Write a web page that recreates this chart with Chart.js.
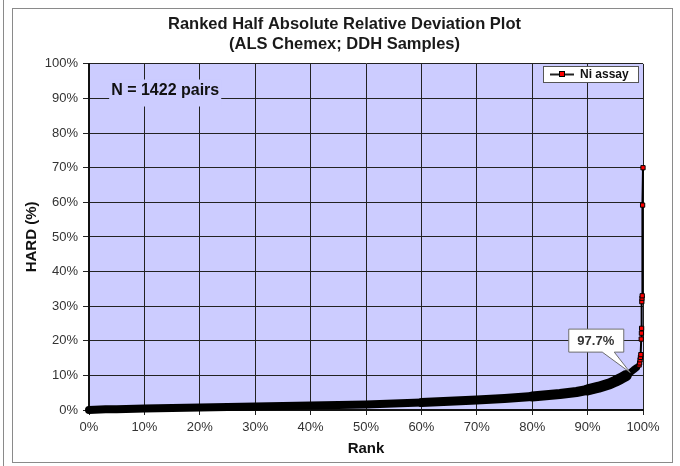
<!DOCTYPE html>
<html>
<head>
<meta charset="utf-8">
<style>
  html, body { margin: 0; padding: 0; background: #fff; }
  #wrap { width: 680px; height: 466px; }
</style>
</head>
<body>
<div id="wrap"><canvas id="hardChart" width="680" height="466"></canvas></div>
<script src="https://cdn.jsdelivr.net/npm/chart.js@4.4.0/dist/chart.umd.min.js"></script>
<script>
// DATA (rank %, HARD %)

const rank = [0, 1, 3, 5, 10, 15, 20, 25, 30, 35, 40, 45, 50, 55, 60, 65, 70, 75, 80, 85, 88, 90, 92, 94, 95, 96, 97, 97.7, 98.3, 98.8, 99.1, 99.3, 99.4, 99.47, 99.54, 99.61, 99.68, 99.72, 99.75, 99.79, 99.82, 99.86, 99.93, 100];
const hard = [0, 0.1, 0.2, 0.25, 0.4, 0.55, 0.7, 0.85, 1.0, 1.15, 1.3, 1.45, 1.6, 1.85, 2.15, 2.5, 2.9, 3.35, 3.9, 4.6, 5.2, 5.8, 6.6, 7.6, 8.3, 9.1, 10.0, 10.8, 11.6, 12.2, 12.6, 13.0, 13.6, 14.5, 15.2, 16.0, 20.5, 22.2, 23.6, 31.3, 32.3, 33.0, 59.2, 70.0];
const seriesName = "Ni assay";
const nPairs = 1422;
const calloutRank = 97.7;
const titleLines = ["Ranked Half Absolute Relative Deviation Plot", "(ALS Chemex; DDH Samples)"];

const FONT = "'Liberation Sans', Arial, sans-serif";

// points below this HARD value sit inside the thick band, above it the markers show
const markerFrom = 12.9;

let points = rank.map((r, i) => ({ x: r, y: hard[i] }));

// FRAME + PLOT BACKGROUND

const backdrop = {
  id: "backdrop",
  afterLayout(chart) {
    // title sits a bit right of the padded box centre
    chart.titleBlock.left += 12;
    chart.titleBlock.right += 12;
  },
  beforeDraw(chart) {
    const c = chart.ctx;
    const a = chart.chartArea;
    c.save();
    c.fillStyle = "#fff";
    c.fillRect(0, 0, chart.width, chart.height);
    c.strokeStyle = "#8a8a8a";
    c.lineWidth = 1;
    c.strokeRect(12.5, 8.5, 660, 454);
    c.beginPath();
    c.moveTo(3.5, 0);
    c.lineTo(3.5, chart.height);
    c.stroke();
    c.fillStyle = "#ccccff";
    c.fillRect(a.left, a.top, a.right - a.left, a.bottom - a.top);
    c.restore();
  },
};

// N LABEL, CALLOUT AND LEGEND

const extras = {
  id: "extras",
  beforeDatasetsDraw(chart) {
    const c = chart.ctx;
    const xs = chart.scales.x;
    const ys = chart.scales.y;
    const txt = "N = " + nPairs + " pairs";
    c.save();
    c.font = "bold 16px " + FONT;
    let w = c.measureText(txt).width;
    let lx = xs.getPixelForValue(4);
    let ly = ys.getPixelForValue(90) - 8;
    c.fillStyle = "#ccccff";
    c.fillRect(lx - 2, ly - 11, w + 4, 27);
    c.fillStyle = "#111";
    c.textBaseline = "middle";
    c.fillText(txt, lx, ly);
    c.restore();
  },
  afterDatasetsDraw(chart) {
    const c = chart.ctx;
    const xs = chart.scales.x;
    const ys = chart.scales.y;
    let i = rank.indexOf(calloutRank);
    let tx = xs.getPixelForValue(rank[i]);
    let ty = ys.getPixelForValue(hard[i]);
    let bw = 55, bh = 23;
    let br = tx - 7, bb = ty - 21;
    let bl = br - bw, bt = bb - bh;

    c.save();
    c.fillStyle = "#fff";
    c.strokeStyle = "#6e6e6e";
    c.lineWidth = 1;
    c.beginPath();
    c.moveTo(bl + 0.5, bt + 0.5);
    c.lineTo(br + 0.5, bt + 0.5);
    c.lineTo(br + 0.5, bb + 0.5);
    c.lineTo(bl + 46, bb + 0.5);
    c.lineTo(tx, ty);
    c.lineTo(bl + 34, bb + 0.5);
    c.lineTo(bl + 0.5, bb + 0.5);
    c.closePath();
    c.fill();
    c.stroke();
    c.fillStyle = "#333";
    c.font = "bold 13px " + FONT;
    c.textAlign = "center";
    c.textBaseline = "middle";
    c.fillText(calloutRank.toFixed(1) + "%", bl + bw / 2, bt + bh / 2 + 1);

    // legend box
    let gx = 543, gy = 66, gw = 95, gh = 16;
    c.fillStyle = "#fff";
    c.fillRect(gx, gy, gw, gh);
    c.strokeStyle = "#555";
    c.strokeRect(gx + 0.5, gy + 0.5, gw, gh);
    c.strokeStyle = "#222";
    c.lineWidth = 2;
    c.beginPath();
    c.moveTo(550, gy + 8.5);
    c.lineTo(574, gy + 8.5);
    c.stroke();
    c.fillStyle = "#ff0000";
    c.fillRect(559, gy + 5, 6, 6);
    c.lineWidth = 1;
    c.strokeStyle = "#000";
    c.strokeRect(559.5, gy + 5.5, 5, 5);
    c.fillStyle = "#111";
    c.font = "bold 12px " + FONT;
    c.textAlign = "left";
    c.fillText(seriesName, 580, gy + 9);
    c.restore();
  },
};

// CHART

const ctx = document.getElementById("hardChart").getContext("2d");

const hardChart = new Chart(ctx, {
  type: "scatter",
  data: {
    datasets: [
      {
        label: seriesName,
        data: points,
        showLine: true,
        clip: false,
        borderColor: "#000",
        borderWidth: 2,
        borderCapStyle: "round",
        borderJoinStyle: "round",
        segment: {
          borderWidth: (s) => {
            let r = rank[s.p0DataIndex];
            if (r < 60) return 8;
            if (r < 80) return 9;
            if (r < 90) return 10;
            if (r < 97) return 11;
            if (r < 98.8) return 7;
            if (r < 99.2) return 4;
            return 2;
          },
        },
        pointStyle: "rect",
        pointRadius: hard.map((v) => (v >= markerFrom ? 3 : 0)),
        pointBackgroundColor: "#ff0000",
        pointBorderColor: "#000",
        pointBorderWidth: 1,
      },
    ],
  },
  plugins: [backdrop, extras],
  options: {
    responsive: false,
    animation: false,
    devicePixelRatio: 1,
    layout: { padding: { left: 22, right: 37, top: 4, bottom: 6 } },
    plugins: {
      legend: { display: false },
      tooltip: { enabled: false },
      title: {
        display: true,
        text: titleLines,
        color: "#1a1a1a",
        font: { family: FONT, size: 16.5, weight: "bold", lineHeight: 1.27 },
        padding: { top: 9.5, bottom: 8.5 },
      },
    },
    scales: {
      x: {
        type: "linear",
        min: 0,
        max: 100,
        afterFit: (s) => {
          s.height = 50;
        },
        ticks: {
          stepSize: 10,
          padding: 5,
          color: "#333",
          font: { family: FONT, size: 13 },
          callback: (v) => v + "%",
        },
        grid: { color: "#222", lineWidth: 1, tickLength: 5 },
        border: { color: "#111", width: 2 },
        title: {
          display: true,
          text: "Rank",
          color: "#111",
          font: { family: FONT, size: 15, weight: "bold" },
          padding: { top: 2, bottom: 2 },
        },
      },
      y: {
        min: 0,
        max: 100,
        afterFit: (s) => {
          s.width = 67;
        },
        ticks: {
          stepSize: 10,
          padding: 5,
          color: "#333",
          font: { family: FONT, size: 13 },
          callback: (v) => v + "%",
        },
        grid: { color: "#222", lineWidth: 1, tickLength: 6 },
        border: { color: "#111", width: 2 },
        title: {
          display: true,
          text: "HARD (%)",
          color: "#111",
          font: { family: FONT, size: 15, weight: "bold" },
          padding: { top: 1, bottom: 2 },
        },
      },
    },
  },
});
</script>
</body>
</html>
